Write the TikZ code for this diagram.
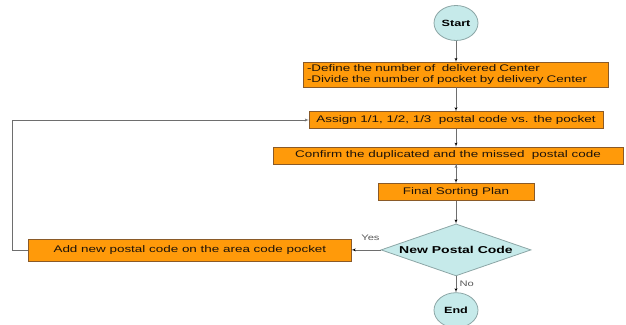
\documentclass[tikz,border=0pt]{standalone}
\usepackage{fontspec}
\usepackage{tikz}
\usetikzlibrary{arrows,positioning,shapes.geometric}
\newfontfamily\chartfont[FakeStretch=1.4]{Liberation Sans}
\definecolor{boxorange}{HTML}{FF9A0A}
\definecolor{boxedge}{HTML}{8A5A28}
\definecolor{termfill}{HTML}{C6EAEA}
\definecolor{termedge}{HTML}{8CA6A6}
\definecolor{linegray}{HTML}{6E6E6E}

\begin{document}
\begin{tikzpicture}[x=1pt,y=1pt,>=latex',node distance=20pt,
    font=\chartfont\fontsize{9.6}{11.5}\selectfont,
    stepbox/.style={rectangle,draw=boxedge,fill=boxorange,text=black!85!brown,inner sep=1pt,minimum height=17pt},
    term/.style={ellipse,draw=termedge,thick,fill=termfill,minimum width=44pt,minimum height=35pt,
      inner sep=0pt,font=\chartfont\bfseries\fontsize{9}{11}\selectfont},
    decision/.style={diamond,aspect=2.9,draw=termedge,thick,fill=termfill,minimum width=150pt,
      minimum height=52pt,inner sep=0pt,font=\chartfont\bfseries\fontsize{10}{12}\selectfont},
    lbl/.style={text=gray!70!black,font=\chartfont\fontsize{8}{10}\selectfont}]

  \useasboundingbox (0,0) rectangle (626,-324);

  \node[term] (start) at (456,-23) {Start};
  \node[stepbox, minimum width=305pt, minimum height=25pt, text width=298pt, align=left]
    (define) [below=21pt of start]
    {-Define the number of\ \ delivered Center\\-Divide the number of pocket by delivery Center};
  \node[stepbox, minimum width=294pt] (assign) [below=24pt of define]
    {Assign 1/1, 1/2, 1/3\ \ postal code vs. the pocket};
  \node[stepbox, minimum width=350pt] (confirm) [below=18pt of assign, xshift=-8pt]
    {Confirm the duplicated and the missed\ \ postal code};
  \node[stepbox, minimum width=156pt] (final) [below=19pt of confirm, xshift=8pt]
    {Final Sorting Plan};
  \node[decision] (newcode) [below=23pt of final] {New Postal Code};
  \node[stepbox, minimum width=323pt, minimum height=22pt] (addcode) [left=29pt of newcode]
    {Add new postal code on the area code pocket};
  \node[term] (end) [below=16pt of newcode] {End};

  \path[->,draw=linegray]
    (start) edge (define)
    (define) edge (assign)
    (assign) edge (confirm.north -| assign)
    (confirm.south -| final) edge (final)
    (final) edge (newcode)
    (newcode) edge node[lbl,above=6pt,pos=0.35] {Yes} (addcode)
    (newcode) edge node[lbl,right,pos=0.45] {No} (end);

  \draw[->,draw=linegray] (addcode.west) -- ++(-16,0) |- (assign.west);

\end{tikzpicture}
\end{document}
